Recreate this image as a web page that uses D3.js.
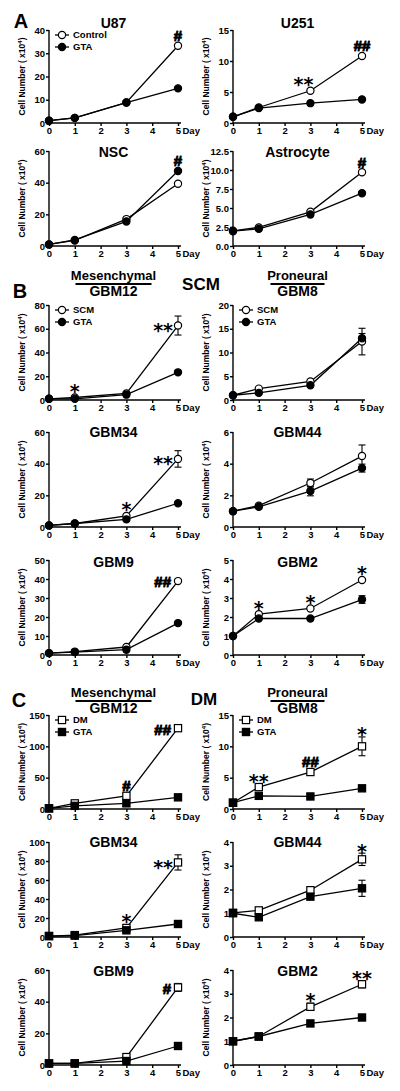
<!DOCTYPE html>
<html><head><meta charset="utf-8">
<script src="https://cdn.jsdelivr.net/npm/d3@7"></script>
<style>
body{margin:0;background:#fff}
svg{display:block}
text{font-family:"Liberation Sans",Arial,sans-serif;font-weight:bold;fill:#000}
</style></head><body>
<svg id="c" width="400" height="1091"></svg>
<script>
// ---------- DATA ----------
const days = [0, 1, 3, 5];
const xTicks = [0, 1, 2, 3, 4, 5];
const legendA = ["Control", "GTA"];
const legendB = ["SCM", "GTA"];
const legendC = ["DM", "GTA"];

// A
const u87Control = [1, 2.2, 8.8, 33.2];
const u87GTA = [1, 2.2, 8.8, 14.9];
const u87Sig = ["", "", "", "#"];
const u251Control = [1, 2.5, 5.2, 10.8];
const u251GTA = [1, 2.4, 3.2, 3.8];
const u251Sig = ["", "", "**", "##"];
const nscControl = [1, 3.5, 17, 39.3];
const nscGTA = [1, 3.8, 15.5, 47.4];
const nscSig = ["", "", "", "#"];
const astroControl = [2.0, 2.45, 4.5, 9.7];
const astroGTA = [1.95, 2.25, 4.15, 6.95];
const astroSig = ["", "", "", "#"];

// B (SCM)
const gbm12Scm = [1, 2.1, 5.5, 62.7];
const gbm12ScmErr = [0, 0, 0, 8];
const gbm12ScmGTA = [1, 1, 4.5, 23.3];
const gbm12ScmSig = ["", "*", "", "**"];
const gbm8Scm = [1, 2.4, 3.9, 12.3];
const gbm8ScmErr = [0, 0, 0, 2.8];
const gbm8ScmGTA = [1, 1.5, 3.1, 13.0];
const gbm8ScmGTAErr = [0, 0, 0, 1.0];
const gbm8ScmSig = ["", "", "", ""];
const gbm34Scm = [1, 2.2, 7, 43];
const gbm34ScmErr = [0, 0, 0, 5.2];
const gbm34ScmGTA = [1, 2.2, 4.8, 15];
const gbm34ScmSig = ["", "", "*", "**"];
const gbm44Scm = [1, 1.35, 2.78, 4.48];
const gbm44ScmErr = [0, 0, 0.25, 0.7];
const gbm44ScmGTA = [1, 1.27, 2.27, 3.72];
const gbm44ScmGTAErr = [0, 0, 0.3, 0.25];
const gbm44ScmSig = ["", "", "", ""];
const gbm9Scm = [1, 1.8, 4.2, 38.9];
const gbm9ScmGTA = [1, 1.5, 2.8, 16.8];
const gbm9ScmSig = ["", "", "", "##"];
const gbm2Scm = [1, 2.15, 2.45, 3.95];
const gbm2ScmGTA = [1, 1.92, 1.92, 2.92];
const gbm2ScmGTAErr = [0, 0, 0, 0.2];
const gbm2ScmSig = ["", "*", "*", "*"];

// C/D (DM)
const gbm12Dm = [1, 9, 21, 129];
const gbm12DmGTA = [1, 5, 9, 18.6];
const gbm12DmSig = ["", "", "#", "##"];
const gbm8Dm = [1, 3.5, 5.9, 10];
const gbm8DmErr = [0, 0.3, 0.2, 1.5];
const gbm8DmGTA = [1, 2.1, 2.0, 3.3];
const gbm8DmSig = ["", "**", "##", "*"];
const gbm34Dm = [1, 2, 9.5, 78.5];
const gbm34DmErr = [0, 0, 0, 8];
const gbm34DmGTA = [1, 1.5, 7, 13.7];
const gbm34DmSig = ["", "", "*", "**"];
const gbm44Dm = [1.02, 1.12, 1.97, 3.27];
const gbm44DmErr = [0, 0, 0.05, 0.26];
const gbm44DmGTA = [1, 0.83, 1.7, 2.05];
const gbm44DmGTAErr = [0, 0, 0, 0.34];
const gbm44DmSig = ["", "", "", "*"];
const gbm9Dm = [1, 1, 5, 49];
const gbm9DmErr = [0, 0, 0, 2.5];
const gbm9DmGTA = [1, 1, 2.5, 12];
const gbm9DmSig = ["", "", "", "#"];
const gbm2Dm = [1, 1.2, 2.45, 3.4];
const gbm2DmErr = [0, 0, 0.15, 0.15];
const gbm2DmGTA = [1, 1.2, 1.75, 2.0];
const gbm2DmSig = ["", "", "*", "**"];

// ---------- LAYOUT ----------
const colX = [[49, 178], [233, 362]];
const rowTop = [30, 151, 305, 432, 560, 715, 842, 970];
const rowBot = [123, 246, 400, 527, 655, 809, 937, 1065];
const titleBase = [28, 157, 296, 437, 567, 713, 847, 976];
const f1 = d3.format(".1f"), fd = d3.format("d");

const panels = [
  {t:"U87", c:0, r:0, ymax:40, yt:[0,10,20,30,40], a:u87Control, b:u87GTA, sig:u87Sig, sym:"c", leg:legendA},
  {t:"U251", c:1, r:0, ymax:15, yt:[0,5,10,15], a:u251Control, b:u251GTA, sig:u251Sig, sym:"c", sigDx:[0,0,-7,0]},
  {t:"NSC", c:0, r:1, ymax:60, yt:[0,20,40,60], a:nscControl, b:nscGTA, sig:nscSig, sym:"c"},
  {t:"Astrocyte", c:1, r:1, ymax:12.5, yt:[0,2.5,5,7.5,10,12.5], fmt:f1, a:astroControl, b:astroGTA, sig:astroSig, sym:"c"},
  {t:"GBM12", c:0, r:2, ymax:80, yt:[0,20,40,60,80], a:gbm12Scm, ea:gbm12ScmErr, b:gbm12ScmGTA, sig:gbm12ScmSig, sym:"c", leg:legendB, left5:true, sub:"Mesenchymal"},
  {t:"GBM8", c:1, r:2, ymax:20, yt:[0,5,10,15,20], a:gbm8Scm, ea:gbm8ScmErr, b:gbm8ScmGTA, eb:gbm8ScmGTAErr, sig:gbm8ScmSig, sym:"c", leg:legendB, sub:"Proneural"},
  {t:"GBM34", c:0, r:3, ymax:60, yt:[0,20,40,60], a:gbm34Scm, ea:gbm34ScmErr, b:gbm34ScmGTA, sig:gbm34ScmSig, sym:"c", left5:true},
  {t:"GBM44", c:1, r:3, ymax:6, yt:[0,2,4,6], a:gbm44Scm, ea:gbm44ScmErr, b:gbm44ScmGTA, eb:gbm44ScmGTAErr, sig:gbm44ScmSig, sym:"c"},
  {t:"GBM9", c:0, r:4, ymax:50, yt:[0,10,20,30,40,50], a:gbm9Scm, b:gbm9ScmGTA, sig:gbm9ScmSig, sym:"c", left5:true},
  {t:"GBM2", c:1, r:4, ymax:5, yt:[0,1,2,3,4,5], a:gbm2Scm, b:gbm2ScmGTA, eb:gbm2ScmGTAErr, sig:gbm2ScmSig, sym:"c"},
  {t:"GBM12", c:0, r:5, ymax:150, yt:[0,50,100,150], a:gbm12Dm, b:gbm12DmGTA, sig:gbm12DmSig, sym:"s", leg:legendC, left5:true, sub:"Mesenchymal"},
  {t:"GBM8", c:1, r:5, ymax:15, yt:[0,5,10,15], a:gbm8Dm, ea:gbm8DmErr, b:gbm8DmGTA, sig:gbm8DmSig, sym:"s", leg:legendC, sub:"Proneural"},
  {t:"GBM34", c:0, r:6, ymax:100, yt:[0,20,40,60,80,100], a:gbm34Dm, ea:gbm34DmErr, b:gbm34DmGTA, sig:gbm34DmSig, sym:"s", left5:true},
  {t:"GBM44", c:1, r:6, ymax:4, yt:[0,1,2,3,4], a:gbm44Dm, ea:gbm44DmErr, b:gbm44DmGTA, eb:gbm44DmGTAErr, sig:gbm44DmSig, sym:"s"},
  {t:"GBM9", c:0, r:7, ymax:60, yt:[0,20,40,60], a:gbm9Dm, ea:gbm9DmErr, b:gbm9DmGTA, sig:gbm9DmSig, sym:"s", left5:true},
  {t:"GBM2", c:1, r:7, ymax:4, yt:[0,1,2,3,4], a:gbm2Dm, ea:gbm2DmErr, b:gbm2DmGTA, sig:gbm2DmSig, sym:"s"}
];

const svg = d3.select("#c");
const SW = 1.3;

function marker(g, sym, cx, cy, filled) {
  if (sym === "c") {
    g.append("circle").attr("cx", cx).attr("cy", cy).attr("r", 3.6)
      .attr("fill", filled ? "#000" : "#fff").attr("stroke", "#000").attr("stroke-width", 1.2);
  } else {
    g.append("rect").attr("x", cx - 3.6).attr("y", cy - 3.6).attr("width", 7.2).attr("height", 7.2)
      .attr("fill", filled ? "#000" : "#fff").attr("stroke", "#000").attr("stroke-width", 1.2);
  }
}

panels.forEach(p => {
  const [x0, x1] = colX[p.c];
  const top = rowTop[p.r], bot = rowBot[p.r];
  const x = d3.scaleLinear().domain([0, 5]).range([x0, x1]);
  const y = d3.scaleLinear().domain([0, p.ymax]).range([bot, top]);
  const g = svg.append("g");

  // axes
  const xa = g.append("g").attr("transform", `translate(0,${bot})`)
    .call(d3.axisBottom(x).tickValues(xTicks).tickSize(3).tickPadding(1).tickFormat(fd));
  xa.select(".domain").attr("d", `M${x0},0H${x1 + 3}`);
  xa.append("text").attr("x", x1 + 4.5).attr("y", 4).attr("dy", "0.71em").attr("text-anchor", "start").text("Day");
  const ya = g.append("g").attr("transform", `translate(${x0},0)`)
    .call(d3.axisLeft(y).tickValues(p.yt).tickSize(3).tickPadding(1).tickFormat(p.fmt || fd));
  ya.select(".domain").attr("d", `M0,${y(p.ymax)}V${y(0)}`);
  [xa, ya].forEach(a => {
    a.attr("font-family", null).attr("font-size", null);
    a.selectAll("path,line").attr("stroke", "#000").attr("stroke-width", 1.4);
    a.selectAll("text").attr("font-size", 9.5).attr("fill", "#000");
  });

  // y label
  const yl = g.append("text")
    .attr("transform", `translate(${x0 - 24},${(top + bot) / 2}) rotate(-90)`)
    .attr("text-anchor", "middle").attr("font-size", 8.5);
  yl.append("tspan").text("Cell Number ( x10");
  yl.append("tspan").attr("font-size", 6).attr("dy", -3.5).text("4");
  yl.append("tspan").attr("dy", 3.5).text(")");

  // title
  g.append("text").attr("x", (x0 + x1) / 2).attr("y", titleBase[p.r]).attr("text-anchor", "middle")
    .attr("font-size", 14).text(p.t);
  if (p.sub) {
    const sy = titleBase[p.r] - 16;
    g.append("text").attr("x", (x0 + x1) / 2).attr("y", sy).attr("text-anchor", "middle")
      .attr("font-size", 13).text(p.sub);
    const hw = p.sub === "Mesenchymal" ? 38 : 27;
    g.append("line").attr("x1", (x0 + x1) / 2 - hw).attr("x2", (x0 + x1) / 2 + hw)
      .attr("y1", sy + 4).attr("y2", sy + 4).attr("stroke", "#000").attr("stroke-width", 2);
  }

  // lines
  const line = d3.line().x((d, i) => x(days[i])).y(d => y(d));
  [p.a, p.b].forEach(s => g.append("path").attr("d", line(s)).attr("fill", "none")
    .attr("stroke", "#000").attr("stroke-width", SW));

  // error bars
  [[p.a, p.ea], [p.b, p.eb]].forEach(([s, e]) => {
    if (!e) return;
    e.forEach((ev, i) => {
      if (!ev) return;
      const cx = x(days[i]);
      g.append("line").attr("x1", cx).attr("x2", cx).attr("y1", y(s[i] - ev)).attr("y2", y(s[i] + ev))
        .attr("stroke", "#000").attr("stroke-width", 1.1);
      [s[i] - ev, s[i] + ev].forEach(v => g.append("line").attr("x1", cx - 3.5).attr("x2", cx + 3.5)
        .attr("y1", y(v)).attr("y2", y(v)).attr("stroke", "#000").attr("stroke-width", 1.1));
    });
  });

  // markers: open then filled
  p.a.forEach((v, i) => marker(g, p.sym, x(days[i]), y(v), false));
  p.b.forEach((v, i) => marker(g, p.sym, x(days[i]), y(v), true));

  // significance
  p.sig.forEach((s, i) => {
    if (!s) return;
    const ea = p.ea ? p.ea[i] : 0, eb = p.eb ? p.eb[i] : 0;
    const vmax = Math.max(p.a[i], p.b[i]);
    const emax = Math.max(p.a[i] + ea, p.b[i] + eb);
    const isStar = s[0] === "*";
    const fs = isStar ? 19 : 15;
    const fam = isStar ? "DejaVu Sans" : "Liberation Sans";
    let cx, cy, anchor = "middle";
    if (i === 3 && p.left5) {
      cx = x(days[i]) - (isStar ? 5 : 7); anchor = "end";
      cy = y(vmax) + 1;
    } else {
      cx = x(days[i]) + (p.sigDx ? p.sigDx[i] : 0);
      cy = Math.min(y(vmax) - 10, y(emax) - 6);
    }
    const base = cy + (isStar ? 0.55 : 0.36) * fs;
    const t = g.append("text").attr("x", cx).attr("y", base).attr("text-anchor", anchor)
      .attr("font-size", fs).style("font-family", fam).text(s);
    if (!isStar) t.attr("stroke", "#000").attr("stroke-width", 0.9).attr("stroke-linejoin", "round");
  });

  // legend
  if (p.leg) {
    p.leg.forEach((name, k) => {
      const ly = top + 5 + k * 12;
      g.append("line").attr("x1", x0 + 6).attr("x2", x0 + 20).attr("y1", ly).attr("y2", ly)
        .attr("stroke", "#000").attr("stroke-width", SW);
      marker(g, p.sym, x0 + 13, ly, k === 1);
      g.append("text").attr("x", x0 + 24).attr("y", ly + 3.3).attr("font-size", 9.5).text(name);
    });
  }
});

// Section labels
const labels = [["A", 21, 28, 20], ["B", 20, 298, 20], ["C", 19, 707, 20], ["SCM", 201, 290, 17], ["DM", 204, 705, 17]];
labels.forEach(([t, lx, ly, fs]) => svg.append("text").attr("x", lx).attr("y", ly)
  .attr("text-anchor", "middle").attr("font-size", fs).text(t));
</script>
</body></html>
